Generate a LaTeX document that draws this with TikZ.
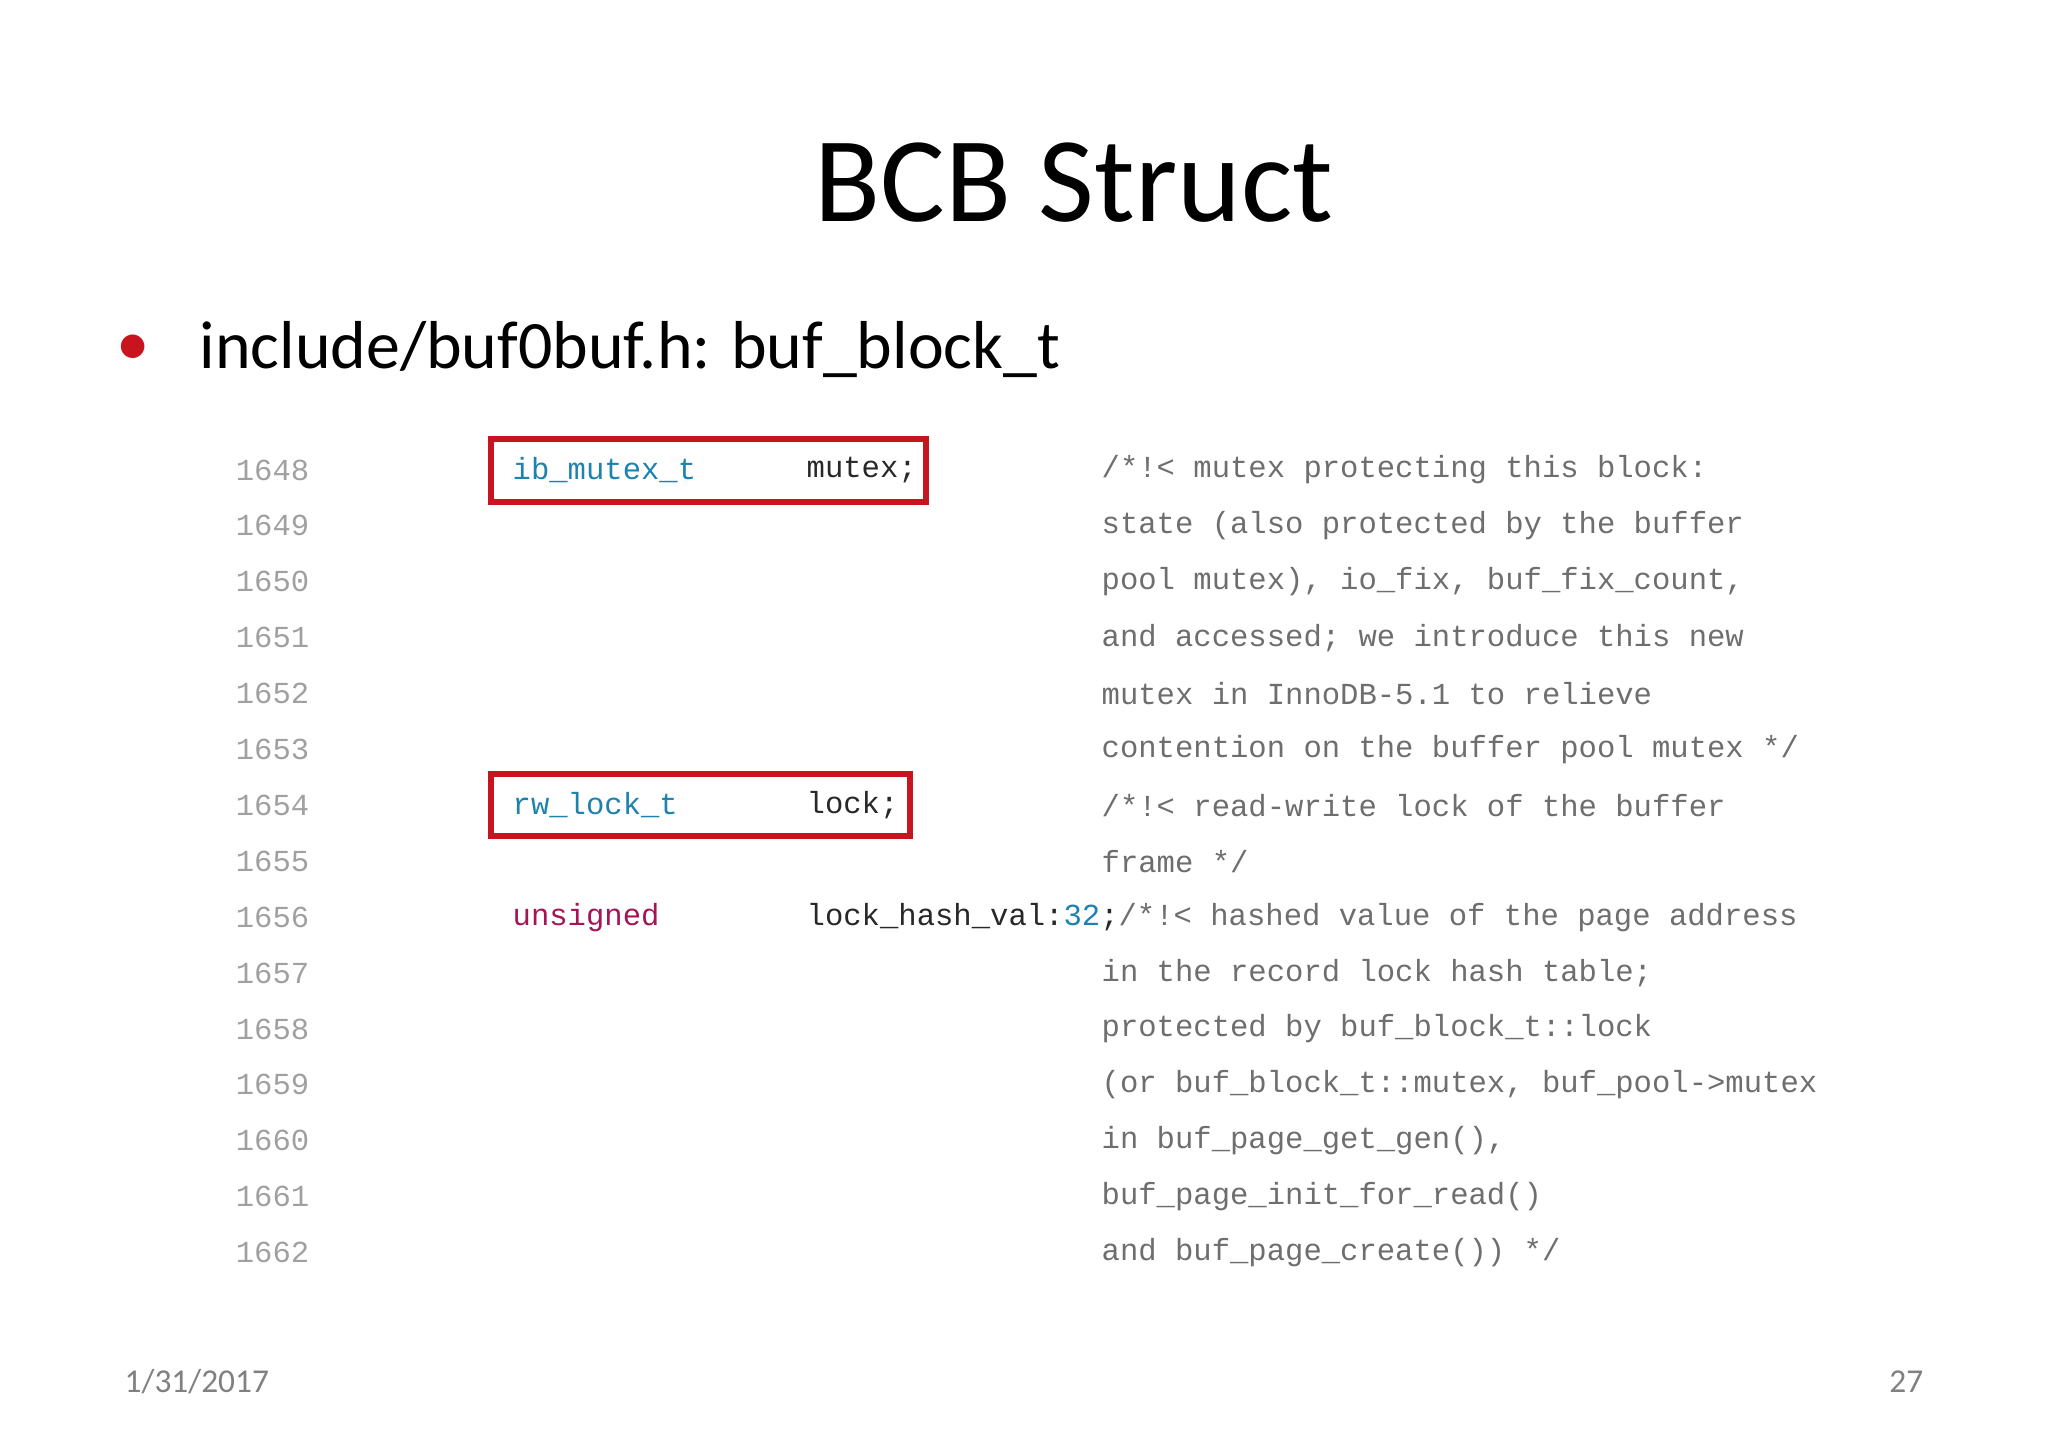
\documentclass[tikz,border=0pt]{standalone}
\usepackage{fontspec}
\setmainfont{Carlito}
\setmonofont{Liberation Mono}
\usepackage{xcolor}
\usetikzlibrary{positioning}
\definecolor{numgray}{RGB}{160,160,160}
\definecolor{typeblue}{RGB}{30,130,175}
\definecolor{kwred}{RGB}{165,20,85}
\definecolor{cmtgray}{RGB}{110,110,110}
\definecolor{codeink}{RGB}{40,40,40}
\definecolor{boxred}{RGB}{200,20,30}
\tikzset{
    lnum/.style = {anchor=east, inner sep=0pt, font=\fontsize{8.7pt}{10pt}\ttfamily, text=numgray},
    code/.style = {anchor=west, inner sep=0pt, font=\fontsize{8.7pt}{10pt}\ttfamily, text=codeink},
    cmt/.style = {code, text=cmtgray},
    hlbox/.style = {draw=boxred, line width=1.6pt},
    foot/.style = {inner sep=0pt, font=\fontsize{9.5pt}{11pt}\selectfont, text=gray}
}
\begin{document}
\begin{tikzpicture}
\useasboundingbox (0,0) rectangle (20.48,14.48);
\node (title) at (10.74,12.65) {\fontsize{34.5pt}{40pt}\selectfont BCB Struct};
\node (bullet) at (1.33,10.98) {\fontsize{19pt}{22pt}\selectfont\textcolor{boxred}{\textbullet}};
\node[anchor=west, inner sep=0pt] (item) at (1.99,10.98) {\fontsize{19.3pt}{22pt}\selectfont include/buf0buf.h: buf\_block\_t};
% line numbers
\foreach \n [count=\i from 0] in {1648,...,1662}
    \node[lnum] (n\n) at (3.10,9.78-0.559*\i) {\n};
% declarations
\node[code, text=typeblue] (t1) at (5.12,9.78) {ib\_mutex\_t};
\node[code] (v1) at (8.06,9.78) {mutex;};
\node[code, text=typeblue] (t2) at (5.12,6.426) {rw\_lock\_t};
\node[code] (v2) at (8.06,6.426) {lock;};
\node[code, text=kwred] (t3) at (5.12,5.308) {unsigned};
\node[code] (v3) at (8.06,5.308) {lock\_hash\_val:\textcolor{typeblue}{32};\textcolor{cmtgray}{/*!< hashed value of the page address}};
% comments
\foreach \txt [count=\i from 0] in {%
    /*!< mutex protecting this block:,
    state (also protected by the buffer,
    {pool mutex), io\_fix, buf\_fix\_count,},
    and accessed; we introduce this new,
    mutex in InnoDB-5.1 to relieve,
    contention on the buffer pool mutex */,
    /*!< read-write lock of the buffer,
    frame */}
    \node[cmt] (c\i) at (11.01,9.78-0.559*\i) {\txt};
\foreach \txt [count=\i from 9] in {%
    in the record lock hash table;,
    protected by buf\_block\_t::lock,
    {(or buf\_block\_t::mutex, buf\_pool->mutex},
    {in buf\_page\_get\_gen(),},
    buf\_page\_init\_for\_read(),
    and buf\_page\_create()) */}
    \node[cmt] (c\i) at (11.01,9.78-0.559*\i) {\txt};
% highlight boxes
\draw[hlbox] (4.91,9.46) rectangle (9.26,10.09);
\draw[hlbox] (4.91,6.12) rectangle (9.10,6.74);
% footer
\node[foot, anchor=west] (date) at (1.24,0.66) {1/31/2017};
\node[foot, anchor=east] (page) at (19.24,0.66) {27};
\end{tikzpicture}
\end{document}
